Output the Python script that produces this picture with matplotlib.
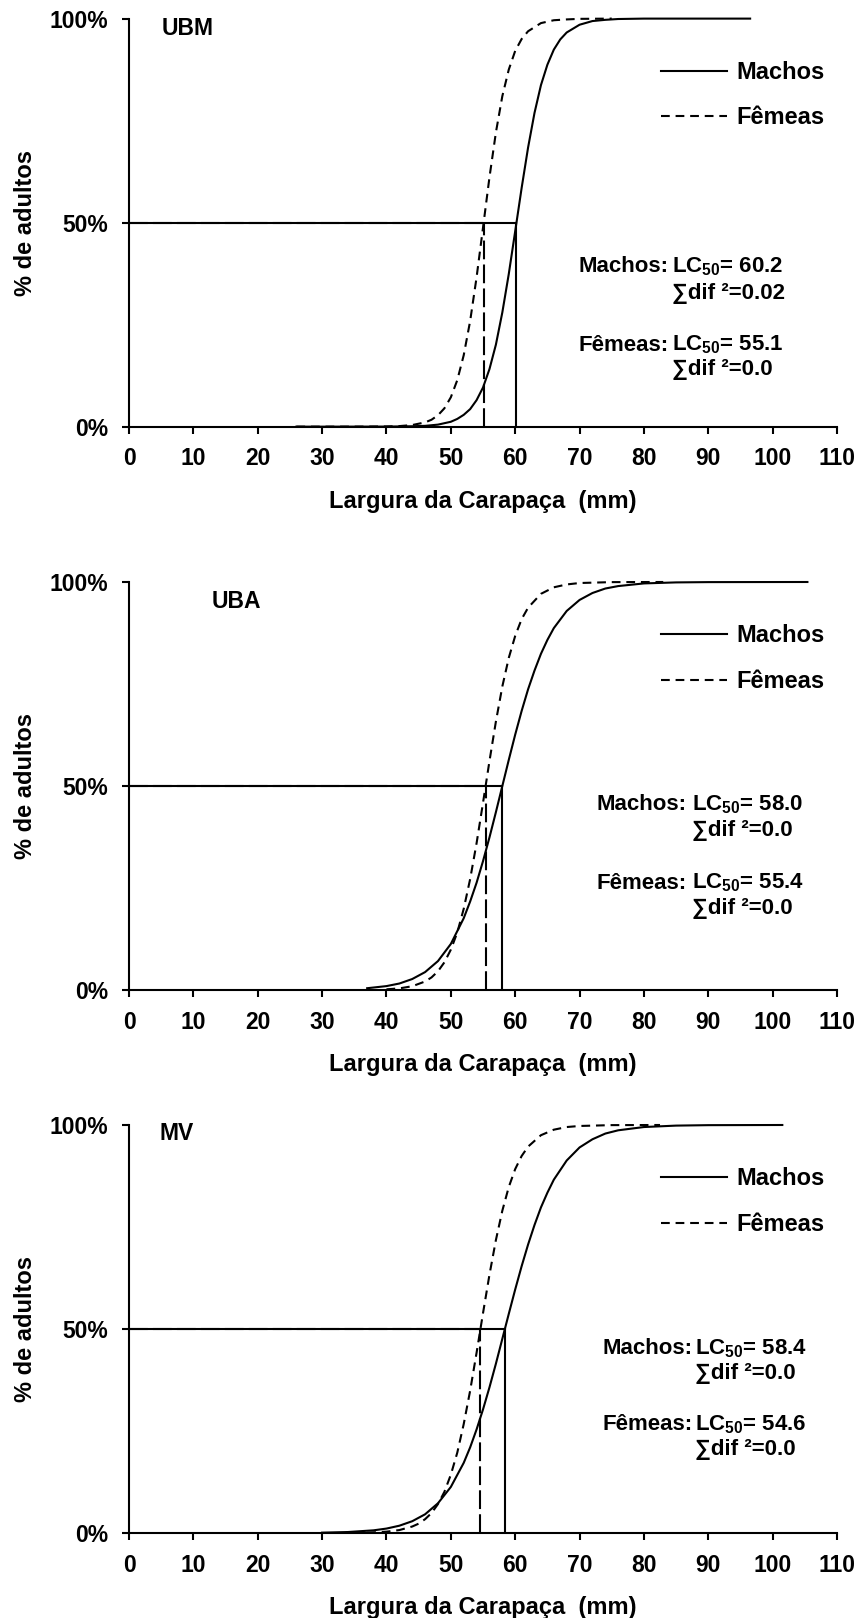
import matplotlib
matplotlib.use('Agg')
import matplotlib.pyplot as plt

# --- data ---
panels = ['UBM', 'UBA', 'MV']

lc50_machos = [60.2, 58.0, 58.4]
lc50_femeas = [55.1, 55.4, 54.6]
sse_machos = ['0.02', '0.0', '0.0']
sse_femeas = ['0.0', '0.0', '0.0']

# UBM
ubm_x_machos = [26, 30, 35, 40, 44, 46, 48, 50, 51, 52, 53, 54, 55, 56, 57, 58, 59, 60, 61, 62,
                63, 64, 65, 66, 67, 68, 70, 72, 74, 76, 80, 85, 96.5]
ubm_y_machos = [0, 0, 0.0001, 0.0002, 0.001, 0.002, 0.005, 0.012, 0.019, 0.029, 0.043, 0.065,
                0.096, 0.141, 0.201, 0.280, 0.374, 0.479, 0.585, 0.684, 0.769, 0.837, 0.887,
                0.924, 0.949, 0.966, 0.985, 0.994, 0.997, 0.999, 1.0, 1.0, 1.0]
ubm_x_femeas = [26, 32, 36, 40, 42, 44, 46, 47, 48, 49, 50, 51, 52, 53, 54, 55, 56, 57, 58, 59,
                60, 61, 62, 64, 66, 68, 70, 75]
ubm_y_femeas = [0, 0, 0.0001, 0.0005, 0.0014, 0.004, 0.0105, 0.017, 0.028, 0.045, 0.072, 0.114,
                0.175, 0.259, 0.366, 0.488, 0.611, 0.721, 0.810, 0.875, 0.921, 0.950, 0.969,
                0.989, 0.996, 0.998, 0.9994, 1.0]

# UBA
uba_x_machos = [37, 40, 42, 44, 46, 48, 50, 52, 53, 54, 55, 56, 57, 58, 59, 60, 61, 62, 63, 64,
                65, 66, 68, 70, 72, 74, 76, 80, 85, 90, 105.4]
uba_y_machos = [0.0045, 0.0097, 0.016, 0.027, 0.044, 0.071, 0.113, 0.176, 0.217, 0.263, 0.316,
                0.374, 0.436, 0.5, 0.564, 0.626, 0.684, 0.737, 0.783, 0.824, 0.858, 0.887,
                0.929, 0.956, 0.973, 0.984, 0.990, 0.9965, 0.999, 0.9997, 1.0]
uba_x_femeas = [40, 42, 44, 46, 47, 48, 49, 50, 51, 52, 53, 54, 55, 56, 57, 58, 59, 60, 61, 62,
                64, 66, 68, 70, 75, 83]
uba_y_femeas = [0.0018, 0.0041, 0.0093, 0.021, 0.031, 0.046, 0.068, 0.099, 0.141, 0.199, 0.272,
                0.360, 0.459, 0.561, 0.658, 0.744, 0.814, 0.868, 0.909, 0.937, 0.971, 0.987,
                0.994, 0.9975, 0.9997, 1.0]

# MV
mv_x_machos = [30, 34, 38, 40, 42, 44, 46, 48, 50, 52, 53, 54, 55, 56, 57, 58, 59, 60, 61, 62,
               63, 64, 65, 66, 68, 70, 72, 74, 76, 80, 85, 90, 101.5]
mv_y_machos = [0.001, 0.0025, 0.0067, 0.011, 0.018, 0.029, 0.046, 0.073, 0.113, 0.172, 0.210,
               0.254, 0.303, 0.357, 0.415, 0.476, 0.537, 0.597, 0.654, 0.707, 0.755, 0.798,
               0.834, 0.866, 0.913, 0.945, 0.965, 0.979, 0.987, 0.995, 0.9985, 0.9996, 1.0]
mv_x_femeas = [37, 40, 42, 44, 45, 46, 47, 48, 49, 50, 51, 52, 53, 54, 55, 56, 57, 58, 59, 60,
               61, 62, 64, 66, 68, 70, 75, 82.5]
mv_y_femeas = [0.001, 0.0034, 0.0073, 0.016, 0.023, 0.034, 0.049, 0.071, 0.101, 0.143, 0.197,
               0.267, 0.349, 0.442, 0.539, 0.633, 0.718, 0.790, 0.848, 0.892, 0.924, 0.947,
               0.975, 0.9885, 0.995, 0.9976, 0.9997, 1.0]

curves = [
    (ubm_x_machos, ubm_y_machos, ubm_x_femeas, ubm_y_femeas),
    (uba_x_machos, uba_y_machos, uba_x_femeas, uba_y_femeas),
    (mv_x_machos, mv_y_machos, mv_x_femeas, mv_y_femeas),
]

x_ticks = list(range(0, 111, 10))
y_ticks = [0, 0.5, 1.0]
y_ticklabels = ['0%', '50%', '100%']

# --- layout ---
plt.rcParams['font.family'] = ['Liberation Sans', 'DejaVu Sans']
plt.rcParams['font.weight'] = 'bold'
plt.rcParams['axes.labelweight'] = 'bold'
plt.rcParams['mathtext.default'] = 'regular'

fig = plt.figure(figsize=(8.63, 16.18), dpi=100)
bottoms = [0.7363, 0.3881, 0.0525]
left, width, height = 0.1495, 0.8204, 0.2522

# title position (data coords) and annotation block per panel
title_pos = [(5.1, 0.975), (12.9, 0.953), (4.8, 0.978)]
colon_x = [83.8, 86.7, 87.6]
col_x = [84.3, 87.4, 88.0]
text_y = [(0.392, 0.327, 0.200, 0.139),
          (0.454, 0.392, 0.262, 0.200),
          (0.453, 0.392, 0.265, 0.205)]

lw = 1.5
fs = 16.5

for i, name in enumerate(panels):
    ax = fig.add_axes([left, bottoms[i], width, height])
    xm, ym, xf, yf = curves[i]

    ax.plot(xm, ym, color='black', lw=lw, label='Machos', clip_on=False,
            solid_joinstyle='round')
    ax.plot(xf, yf, color='black', lw=lw, dashes=[4.2, 2.8], label='Fêmeas', clip_on=False)

    # LC50 guide lines
    ax.plot([0, lc50_femeas[i]], [0.5, 0.5], color='black', lw=lw, dashes=[9, 2.5])
    ax.plot([lc50_femeas[i], lc50_femeas[i]], [0, 0.5], color='black', lw=lw, dashes=[9, 2.5])
    ax.plot([0, lc50_machos[i]], [0.5, 0.5], color='black', lw=lw)
    ax.plot([lc50_machos[i], lc50_machos[i]], [0, 0.5], color='black', lw=lw)

    ax.set_xlim(0, 110)
    ax.set_ylim(0, 1)
    ax.set_xticks(x_ticks)
    ax.set_yticks(y_ticks)
    ax.set_yticklabels(y_ticklabels)
    for s in ['top', 'right']:
        ax.spines[s].set_visible(False)
    for s in ['left', 'bottom']:
        ax.spines[s].set_linewidth(1.5)
    ax.tick_params(axis='both', direction='out', length=5, width=1.5, labelsize=fs)
    ax.tick_params(axis='y', pad=10)
    ax.tick_params(axis='x', pad=10)

    ax.set_xlabel('Largura da Carapaça  (mm)', fontsize=17, labelpad=14)
    ax.set_ylabel('% de adultos', fontsize=17, labelpad=9)

    ax.text(title_pos[i][0], title_pos[i][1], name, fontsize=16.5, ha='left', va='center')

    ty = text_y[i]
    ax.text(colon_x[i], ty[0], 'Machos:', fontsize=16, ha='right', va='center')
    ax.text(col_x[i], ty[0], 'LC$_{50}$= %.1f' % lc50_machos[i], fontsize=16,
            ha='left', va='center')
    ax.text(col_x[i], ty[1], '∑dif ²=' + sse_machos[i], fontsize=16, ha='left', va='center')
    ax.text(colon_x[i], ty[2], 'Fêmeas:', fontsize=16, ha='right', va='center')
    ax.text(col_x[i], ty[2], 'LC$_{50}$= %.1f' % lc50_femeas[i], fontsize=16,
            ha='left', va='center')
    ax.text(col_x[i], ty[3], '∑dif ²=' + sse_femeas[i], fontsize=16, ha='left', va='center')

    ax.legend(loc='upper left', bbox_to_anchor=(0.751, 0.896), frameon=False, fontsize=17,
              handlelength=2.8, handletextpad=0.4, labelspacing=0.95, borderpad=0,
              borderaxespad=0)

fig.savefig('out.png', dpi=100)
